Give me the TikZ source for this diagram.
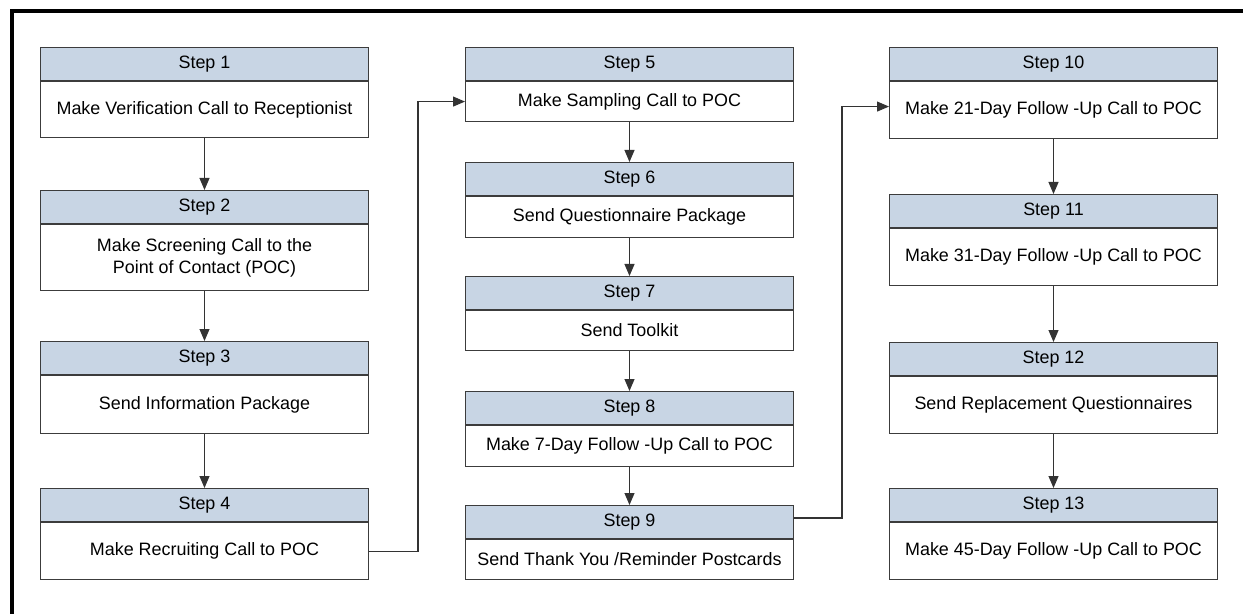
\documentclass[tikz,border=0pt]{standalone}
\usepackage{fontspec}
\setmainfont{Liberation Sans}
\usetikzlibrary{positioning,arrows.meta}
\definecolor{headblue}{HTML}{C8D5E4}
\definecolor{boxline}{HTML}{3C3C3C}
\tikzset{
  stephead/.style={rectangle, draw=boxline, fill=headblue, line width=0.6pt,
    anchor=north west, minimum width=6.56cm, minimum height=0.66cm, inner sep=0pt,
    font=\fontsize{10.2}{12.5}\selectfont},
  stepbody/.style={rectangle, draw=boxline, fill=white, line width=0.6pt,
    minimum width=6.56cm, inner sep=0pt, align=center,
    font=\fontsize{10.2}{12.5}\selectfont},
  link/.style={draw=black!80, line width=0.6pt, -{Triangle[length=0.24cm, width=0.2cm]}},
  frame/.style={line width=0.08cm, line join=miter}
}

\begin{document}
\begin{tikzpicture}[x=0.02cm, y=-0.02cm]
\useasboundingbox (0,0) rectangle (1243,614);
\draw[frame] (1243,11) -| (12,614);

% first column
\node[stephead] (s1h) at (40,47) {Step 1};
\node[stepbody, minimum height=1.12cm, below=0pt of s1h] (s1) {Make Verification Call to Receptionist};
\node[stephead] (s2h) at (40,190) {Step 2};
\node[stepbody, minimum height=1.32cm, below=0pt of s2h] (s2) {Make Screening Call to the\\Point of Contact (POC)};
\node[stephead] (s3h) at (40,341) {Step 3};
\node[stepbody, minimum height=1.16cm, below=0pt of s3h] (s3) {Send Information Package};
\node[stephead] (s4h) at (40,488) {Step 4};
\node[stepbody, minimum height=1.14cm, below=0pt of s4h] (s4) {Make Recruiting Call to POC};

% second column
\node[stephead] (s5h) at (465,47) {Step 5};
\node[stepbody, minimum height=0.80cm, below=0pt of s5h] (s5) {Make Sampling Call to POC};
\node[stephead] (s6h) at (465,162) {Step 6};
\node[stepbody, minimum height=0.82cm, below=0pt of s6h] (s6) {Send Questionnaire Package};
\node[stephead] (s7h) at (465,276) {Step 7};
\node[stepbody, minimum height=0.80cm, below=0pt of s7h] (s7) {Send Toolkit};
\node[stephead] (s8h) at (465,391) {Step 8};
\node[stepbody, minimum height=0.82cm, below=0pt of s8h] (s8) {Make 7-Day Follow -Up Call to POC};
\node[stephead] (s9h) at (465,505) {Step 9};
\node[stepbody, minimum height=0.80cm, below=0pt of s9h] (s9) {Send Thank You /Reminder Postcards};

% third column
\node[stephead] (s10h) at (889,47) {Step 10};
\node[stepbody, minimum height=1.14cm, below=0pt of s10h] (s10) {Make 21-Day Follow -Up Call to POC};
\node[stephead] (s11h) at (889,194) {Step 11};
\node[stepbody, minimum height=1.14cm, below=0pt of s11h] (s11) {Make 31-Day Follow -Up Call to POC};
\node[stephead] (s12h) at (889,342) {Step 12};
\node[stepbody, minimum height=1.14cm, below=0pt of s12h] (s12) {Send Replacement Questionnaires};
\node[stephead] (s13h) at (889,488) {Step 13};
\node[stepbody, minimum height=1.14cm, below=0pt of s13h] (s13) {Make 45-Day Follow -Up Call to POC};

% arrows
\draw[link] (s1) -- (s2h);
\draw[link] (s2) -- (s3h);
\draw[link] (s3) -- (s4h);
\draw[link] (s5) -- (s6h);
\draw[link] (s6) -- (s7h);
\draw[link] (s7) -- (s8h);
\draw[link] (s8) -- (s9h);
\draw[link] (s10) -- (s11h);
\draw[link] (s11) -- (s12h);
\draw[link] (s12) -- (s13h);

% jumps between columns
\coordinate (k1) at (418,0);
\coordinate (k2) at (842,0);
\coordinate (o9) at ([yshift=0.08cm]s9h.east);
\coordinate (i10) at ([yshift=0.07cm]s10.west);
\draw[link] (s4.east) -- (s4.east -| k1) |- (s5.west);
\draw[link] (o9) -- (o9 -| k2) |- (i10);
\end{tikzpicture}
\end{document}
